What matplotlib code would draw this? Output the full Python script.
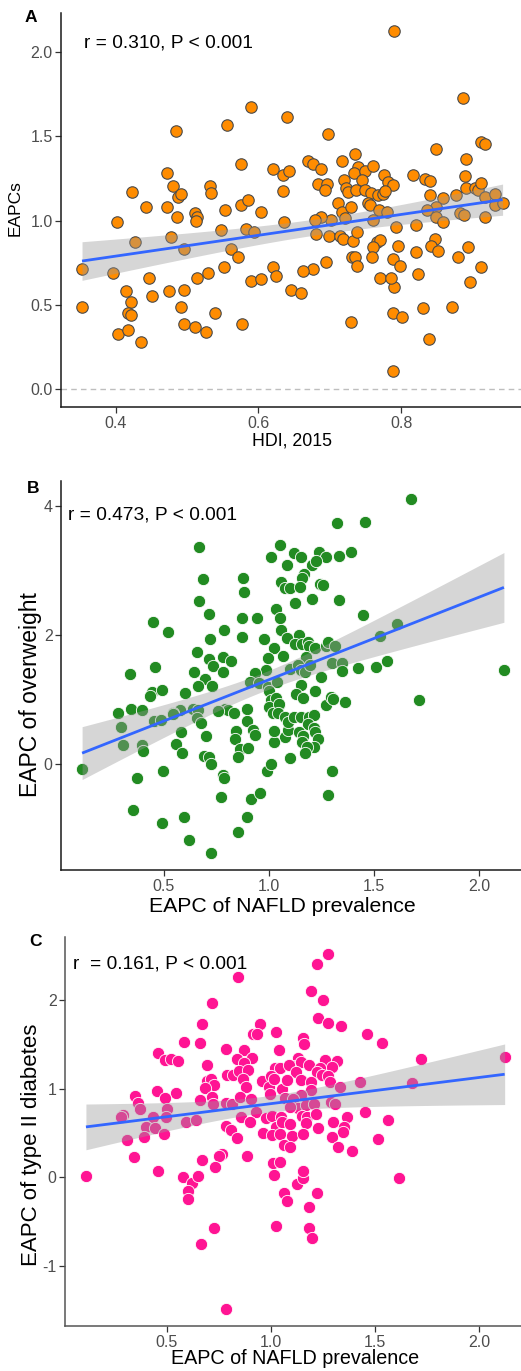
import numpy as np
import matplotlib
matplotlib.use("Agg")
import matplotlib.pyplot as plt

plt.rcParams['font.family'] = ['Liberation Sans', 'DejaVu Sans']
plt.rcParams['axes.unicode_minus'] = False

# ---------------- Panel A: HDI 2015 vs EAPC ----------------
hdi_2015 = [
    0.589, 0.640, 0.484, 0.556, 0.576, 0.472, 0.621, 0.635, 0.643, 0.423,
    0.481, 0.487, 0.491, 0.532, 0.533, 0.635, 0.442, 0.472, 0.486, 0.511,
    0.514, 0.513, 0.553, 0.576, 0.586, 0.603, 0.402, 0.636, 0.427, 0.478,
    0.496, 0.548, 0.583, 0.594, 0.561, 0.572, 0.353, 0.396, 0.447, 0.514,
    0.529, 0.552, 0.620, 0.625, 0.589, 0.603, 0.414, 0.451, 0.475, 0.496,
    0.353, 0.421, 0.417, 0.421, 0.403, 0.418, 0.435, 0.492, 0.496, 0.511,
    0.526, 0.539, 0.577, 0.646, 0.660, 0.730, 0.790, 0.788, 0.801, 0.788,
    0.830, 0.839, 0.871, 0.896,
    0.790, 0.887, 0.697, 0.912, 0.918, 0.849, 0.735, 0.891, 0.670, 0.676,
    0.687, 0.717, 0.739, 0.734, 0.749, 0.761, 0.745, 0.720, 0.776, 0.781,
    0.789, 0.817, 0.833, 0.841, 0.890, 0.684, 0.696, 0.693, 0.723, 0.725,
    0.737, 0.749, 0.758, 0.768, 0.774, 0.778, 0.840, 0.891, 0.903, 0.907,
    0.912, 0.917, 0.931, 0.931, 0.942, 0.877, 0.859, 0.849, 0.836, 0.849,
    0.858, 0.883, 0.888, 0.917, 0.712, 0.717, 0.730, 0.753, 0.756, 0.769,
    0.780, 0.722, 0.702, 0.688, 0.679, 0.761, 0.680, 0.699, 0.715, 0.719,
    0.732, 0.738, 0.793, 0.821, 0.766, 0.771, 0.761, 0.796, 0.821, 0.848,
    0.842, 0.852, 0.893, 0.879, 0.731, 0.735, 0.738, 0.759, 0.789, 0.798,
    0.695, 0.677, 0.662, 0.770, 0.786, 0.823, 0.912,
]
eapc_a = [
    1.675, 1.616, 1.533, 1.565, 1.334, 1.284, 1.304, 1.272, 1.294, 1.171,
    1.205, 1.142, 1.156, 1.207, 1.162, 1.174, 1.081, 1.082, 1.021, 1.047,
    1.023, 0.999, 1.063, 1.094, 1.122, 1.053, 0.994, 0.994, 0.873, 0.901,
    0.834, 0.944, 0.952, 0.934, 0.834, 0.782, 0.713, 0.691, 0.662, 0.662,
    0.691, 0.723, 0.723, 0.672, 0.642, 0.652, 0.583, 0.553, 0.583, 0.589,
    0.490, 0.519, 0.450, 0.440, 0.330, 0.350, 0.279, 0.490, 0.389, 0.369,
    0.340, 0.450, 0.389, 0.590, 0.571, 0.399, 0.608, 0.450, 0.430, 0.110,
    0.480, 0.298, 0.490, 0.638,
    2.126, 1.725, 1.513, 1.464, 1.454, 1.424, 1.395, 1.363, 1.353, 1.335,
    1.304, 1.352, 1.316, 1.282, 1.292, 1.324, 1.243, 1.243, 1.272, 1.227,
    1.213, 1.272, 1.245, 1.233, 1.264, 1.220, 1.215, 1.180, 1.193, 1.171,
    1.180, 1.180, 1.164, 1.154, 1.156, 1.174, 1.154, 1.195, 1.195, 1.181,
    1.225, 1.142, 1.156, 1.094, 1.104, 1.154, 1.132, 1.082, 1.063, 1.023,
    0.992, 1.043, 1.031, 1.021, 1.104, 1.053, 1.082, 1.104, 1.092, 1.063,
    1.053, 1.013, 1.004, 1.023, 1.004, 1.002, 0.922, 0.911, 0.911, 0.891,
    0.881, 0.932, 0.960, 0.972, 0.875, 0.885, 0.842, 0.851, 0.812, 0.893,
    0.851, 0.822, 0.842, 0.782, 0.782, 0.782, 0.733, 0.782, 0.772, 0.733,
    0.753, 0.713, 0.701, 0.662, 0.662, 0.682, 0.723,
]

# ---------------- Panel B: NAFLD EAPC vs overweight EAPC ----------------
nafld_b = [
    0.668, 0.687, 0.880, 0.882, 0.668, 0.718, 0.872, 0.946, 0.451, 0.519,
    0.787, 0.723, 0.872, 0.977, 0.657, 0.717, 0.737, 0.783, 0.820, 0.783,
    0.647, 0.695, 0.665, 0.730, 0.461, 0.341, 0.443, 0.434, 0.491, 0.600,
    0.285, 0.345, 0.396, 1.011, 1.054, 1.087, 1.060, 1.079, 1.036, 1.054,
    1.058, 1.027, 1.068, 0.996, 0.989, 0.934, 0.912, 0.956, 0.998, 1.041,
    1.002, 1.010, 1.036, 1.049, 1.003, 1.019, 0.896, 0.790, 0.806, 0.758,
    0.834, 0.642, 0.578, 0.543,
    0.113, 0.296, 0.309, 0.398, 0.402, 0.454, 0.490, 0.546, 0.581, 0.559,
    0.587, 0.665, 0.660, 0.676, 0.703, 0.692, 0.714, 0.725, 0.845, 0.842,
    0.864, 0.853, 0.897, 0.926, 0.937, 0.902, 0.783, 0.788, 0.771, 0.918,
    0.960, 0.897, 0.853, 0.725, 0.619, 0.598, 0.493, 0.356, 0.374, 0.497,
    0.991, 1.013, 1.103, 1.079, 1.090, 1.024, 1.024, 1.048, 1.046, 1.078,
    1.090, 1.120, 1.155, 1.193, 1.215, 1.185, 1.214, 1.145, 1.164, 1.158,
    1.221, 1.236, 1.217, 1.182, 1.174, 1.272, 1.362, 1.300, 1.283, 1.715,
    1.676, 1.323, 1.459, 1.120, 1.152, 1.239, 1.272, 1.332, 1.389, 1.206,
    1.225, 1.169, 1.157, 1.103, 1.149, 1.245, 1.257, 1.126, 1.206, 1.335,
    1.449, 1.611, 1.530, 1.086, 1.145, 1.126, 1.158, 1.188, 1.192, 1.221,
    1.272, 1.283, 1.315, 1.177, 1.101, 1.141, 1.154, 1.173, 1.196, 1.299,
    1.348, 1.350, 1.424, 1.509, 1.560, 1.247, 1.152, 1.131, 1.164, 1.220,
    1.296, 1.304, 2.118,
]
overweight = [
    3.369, 2.878, 2.888, 2.666, 2.527, 2.330, 2.268, 2.268, 2.201, 2.046,
    2.077, 1.943, 1.979, 1.948, 1.736, 1.633, 1.519, 1.664, 1.606, 1.426,
    1.436, 1.322, 1.209, 1.209, 1.513, 1.405, 1.116, 1.064, 1.147, 1.105,
    0.795, 0.862, 0.847, 3.214, 3.395, 3.095, 2.831, 2.729, 2.403, 2.268,
    2.077, 1.808, 1.679, 1.648, 1.457, 1.415, 1.271, 1.256, 1.203, 1.276,
    1.141, 0.997, 1.023, 0.919, 0.893, 0.791, 0.853, 0.857, 0.842, 0.826,
    0.795, 0.862, 0.842, 0.791,
    -0.073, 0.574, 0.304, 0.304, 0.211, 0.667, 0.680, 0.780, 0.506, 0.319,
    0.171, 0.842, 0.713, 0.640, 0.444, 0.133, 0.109, 0.010, 0.511, 0.392,
    0.233, 0.118, 0.676, 0.532, 0.454, 0.257, -0.166, -0.208, -0.507, -0.543,
    -0.445, -0.817, -1.050, -1.370, -1.178, -0.812, -0.905, -0.703, -0.212, -0.099,
    -0.099, 0.005, 0.102, 0.419, 0.532, 0.341, 0.516, 0.935, 0.791, 0.738,
    0.651, 0.729, 0.738, 0.729, 0.764, 0.620, 0.558, 0.496, 0.444, 0.351,
    0.506, 0.392, 0.273, 0.264, 0.180, 0.919, 0.961, -0.099, -0.481, 0.997,
    4.113, 3.736, 3.752, 3.276, 3.219, 3.296, 3.209, 3.225, 3.287, 3.090,
    3.147, 2.950, 2.884, 2.729, 2.754, 2.795, 2.780, 2.496, 2.558, 2.552,
    2.310, 2.175, 1.984, 1.954, 2.010, 1.870, 1.865, 1.901, 1.839, 1.808,
    1.834, 1.901, 1.834, 1.668, 1.478, 1.544, 1.462, 1.436, 1.544, 1.575,
    1.566, 1.446, 1.498, 1.504, 1.602, 1.358, 1.229, 1.095, 1.033, 1.132,
    1.048, 1.017, 1.457,
]

# ---------------- Panel C: NAFLD EAPC vs type II diabetes EAPC ----------------
nafld_c = [
    0.844, 0.719, 0.668, 0.948, 0.916, 0.932, 1.025, 0.582, 0.660, 1.037,
    0.785, 0.871, 0.460, 0.493, 0.521, 0.556, 0.837, 0.909, 0.695, 0.872,
    1.020, 1.044, 0.788, 0.820, 0.847, 0.892, 0.865, 0.692, 0.714, 0.727,
    0.685, 0.881, 0.956, 0.999, 0.992, 1.055, 1.013, 0.452, 0.546, 0.348,
    0.490, 0.361, 0.660, 0.716, 0.724, 0.783, 0.815, 0.853, 0.905, 0.927,
    0.996, 0.372, 0.500, 0.289, 0.281, 0.433, 0.497, 0.591, 0.642, 0.857,
    0.898, 0.975, 1.005, 1.023, 1.049, 1.052, 0.401, 0.444, 0.393, 0.487,
    0.310, 0.786, 0.807, 0.839, 0.961, 1.005, 1.045, 0.342, 0.669, 0.767,
    0.752, 0.884, 1.012, 1.044,
    0.113, 0.457, 0.578, 0.620, 0.649, 0.601, 0.601, 0.732, 0.726, 0.665,
    0.785, 1.015, 1.064, 1.079, 1.025, 1.124, 1.156, 1.156, 1.181, 1.184,
    1.197, 1.220, 1.613,
    1.274, 1.223, 1.194, 1.249, 1.228, 1.273, 1.336, 1.460, 1.535, 1.720,
    2.122, 1.156, 1.159, 1.130, 1.112, 1.146, 1.184, 1.085, 1.261, 1.316,
    1.295, 1.237, 1.220, 1.245, 1.274, 1.120, 1.079, 1.146, 1.194, 1.284,
    1.191, 1.333, 1.426, 1.679, 1.143, 1.068, 1.108, 1.132, 1.167, 1.205,
    1.288, 1.308, 1.092, 1.149, 1.172, 1.215, 1.168, 1.093, 1.225, 1.300,
    1.364, 1.349, 1.347, 1.452, 1.560, 1.103, 1.154, 1.295, 1.064, 1.092,
    1.323, 1.391, 1.513,
]
diabetes = [
    2.255, 1.962, 1.732, 1.732, 1.616, 1.616, 1.635, 1.525, 1.518, 1.432,
    1.450, 1.435, 1.401, 1.322, 1.334, 1.315, 1.334, 1.345, 1.266, 1.285,
    1.232, 1.236, 1.153, 1.150, 1.198, 1.210, 1.108, 1.089, 1.108, 1.041,
    1.010, 1.018, 1.089, 1.139, 1.015, 0.995, 1.108, 0.970, 0.947, 0.913,
    0.891, 0.834, 0.871, 0.902, 0.823, 0.841, 0.823, 0.905, 0.883, 0.740,
    0.939, 0.767, 0.770, 0.699, 0.676, 0.676, 0.683, 0.620, 0.643, 0.683,
    0.620, 0.672, 0.688, 0.567, 0.676, 0.627, 0.564, 0.552, 0.458, 0.488,
    0.417, 0.578, 0.533, 0.446, 0.496, 0.477, 0.488, 0.225, 0.198, 0.266,
    0.243, 0.243, 0.165, 0.176,
    0.015, 0.071, 0.003, -0.064, 0.018, -0.154, -0.245, 0.120, -0.568, -0.749,
    -1.481, 0.030, -0.180, -0.264, -0.546, -0.072, -0.008, 0.071, -0.331, -0.572,
    -0.684, -0.177, -0.011,
    2.514, 2.408, 2.100, 1.999, 1.800, 1.743, 1.709, 1.616, 1.514, 1.330,
    1.356, 1.574, 1.499, 1.349, 1.258, 1.300, 1.270, 1.266, 1.319, 1.311,
    1.247, 1.236, 1.191, 1.153, 1.139, 1.184, 1.100, 1.100, 1.071, 1.071,
    0.981, 1.015, 1.071, 1.060, 0.928, 0.897, 0.883, 0.785, 0.815, 0.826,
    0.852, 0.826, 0.796, 0.694, 0.680, 0.714, 0.616, 0.601, 0.559, 0.620,
    0.680, 0.567, 0.507, 0.740, 0.650, 0.466, 0.485, 0.451, 0.364, 0.338,
    0.338, 0.300, 0.428,
]

panel_letters = ["A", "B", "C"]
r_texts = ["r = 0.310, P < 0.001", "r = 0.473, P < 0.001", "r  = 0.161, P < 0.001"]
x_titles = ["HDI, 2015", "EAPC of NAFLD prevalence", "EAPC of NAFLD prevalence"]
y_titles = ["EAPCs", "EAPC of overweight", "EAPC of type II diabetes"]
x_ticks = [[0.4, 0.6, 0.8], [0.5, 1.0, 1.5, 2.0], [0.5, 1.0, 1.5, 2.0]]
y_ticks = [[0.0, 0.5, 1.0, 1.5, 2.0], [0, 2, 4], [-1, 0, 1, 2]]

W, H = 521, 1371
fig = plt.figure(figsize=(W / 100, H / 100), dpi=100)


def rect(l, t, r, b):
    return [l / W, 1 - b / H, (r - l) / W, (b - t) / H]


def t975(df):
    z = 1.959964
    return z + (z**3 + z) / (4 * df) + (5 * z**5 + 16 * z**3 + 3 * z) / (96 * df**2)


def add_smooth(ax, x, y):
    x = np.asarray(x, float)
    y = np.asarray(y, float)
    n = len(x)
    b, a = np.polyfit(x, y, 1)
    resid = y - (a + b * x)
    s = np.sqrt(np.sum(resid**2) / (n - 2))
    sxx = np.sum((x - x.mean())**2)
    xs = np.linspace(x.min(), x.max(), 100)
    ys = a + b * xs
    se = s * np.sqrt(1 / n + (xs - x.mean())**2 / sxx)
    t = t975(n - 2)
    ax.fill_between(xs, ys - t * se, ys + t * se, color='#999999', alpha=0.4,
                    lw=0, zorder=3)
    ax.plot(xs, ys, color='#3366FF', lw=2.0, zorder=4, solid_capstyle='butt')


def set_limits(ax, x, y, include_zero=False):
    x = np.asarray(x); y = np.asarray(y)
    x0, x1 = x.min(), x.max()
    y0, y1 = y.min(), y.max()
    if include_zero:
        y0 = min(y0, 0.0)
    dx = (x1 - x0) * 0.05
    dy = (y1 - y0) * 0.05
    ax.set_xlim(x0 - dx, x1 + dx)
    ax.set_ylim(y0 - dy, y1 + dy)


def style(ax, spine_color, tick_size, xi):
    for s in ['top', 'right']:
        ax.spines[s].set_visible(False)
    for s in ['left', 'bottom']:
        ax.spines[s].set_color(spine_color)
        ax.spines[s].set_linewidth(1.1)
    ax.tick_params(axis='both', length=4, width=0.9, color='#333333',
                   labelcolor='#4D4D4D', labelsize=tick_size, pad=2)
    ax.set_xticks(x_ticks[xi])
    ax.set_yticks(y_ticks[xi])


# ---- Panel A ----
axA = fig.add_axes(rect(61, 12.8, 523.6, 407.2))
axA.scatter(hdi_2015, eapc_a, s=68, c='#FF8C00', edgecolors='#4a4a4a',
            linewidths=0.8, zorder=2)
add_smooth(axA, hdi_2015, eapc_a)
axA.axhline(0, color='#BEBEBE', lw=1.0, ls=(0, (4, 3)), zorder=1)
set_limits(axA, hdi_2015, eapc_a, include_zero=True)
style(axA, '#1a1a1a', 11.5, 0)

# ---- Panel B ----
axB = fig.add_axes(rect(61, 481.3, 525, 870.3))
axB.scatter(nafld_b, overweight, s=78, c='#228B22', edgecolors='white',
            linewidths=0.6, zorder=2)
add_smooth(axB, nafld_b, overweight)
set_limits(axB, nafld_b, overweight)
style(axB, '#1a1a1a', 11.5, 1)

# ---- Panel C ----
axC = fig.add_axes(rect(65, 936.6, 525.6, 1326.4))
axC.scatter(nafld_c, diabetes, s=78, c='#FF1493', edgecolors='white',
            linewidths=0.6, zorder=2)
add_smooth(axC, nafld_c, diabetes)
set_limits(axC, nafld_c, diabetes)
style(axC, '#555555', 11.5, 2)

# ---- texts ----
fig.text(31 / W, 1 - 18 / H, panel_letters[0], fontsize=12.5, fontweight='bold',
         ha='center', va='center')
fig.text(33 / W, 1 - 489 / H, panel_letters[1], fontsize=12.5, fontweight='bold',
         ha='center', va='center')
fig.text(35 / W, 1 - 942 / H, panel_letters[2], fontsize=12.5, fontweight='bold',
         ha='center', va='center')

fig.text(84 / W, 1 - 43 / H, r_texts[0], fontsize=13.8, ha='left', va='center')
fig.text(68 / W, 1 - 515 / H, r_texts[1], fontsize=13.8, ha='left', va='center')
fig.text(73 / W, 1 - 964 / H, r_texts[2], fontsize=13.8, ha='left', va='center')

fig.text(292 / W, 1 - 441 / H, x_titles[0], fontsize=12.8, ha='center', va='center')
fig.text(282 / W, 1 - 907 / H, x_titles[1], fontsize=15.3, ha='center', va='center')
fig.text(295 / W, 1 - 1359 / H, x_titles[2], fontsize=14.2, ha='center', va='center')

fig.text(15 / W, 1 - 208 / H, y_titles[0], fontsize=12.5, rotation=90,
         ha='center', va='center')
fig.text(31 / W, 1 - 695 / H, y_titles[1], fontsize=16.5, rotation=90,
         ha='center', va='center')
fig.text(32 / W, 1 - 1145 / H, y_titles[2], fontsize=16.0, rotation=90,
         ha='center', va='center')

fig.savefig('out.png', dpi=100)
